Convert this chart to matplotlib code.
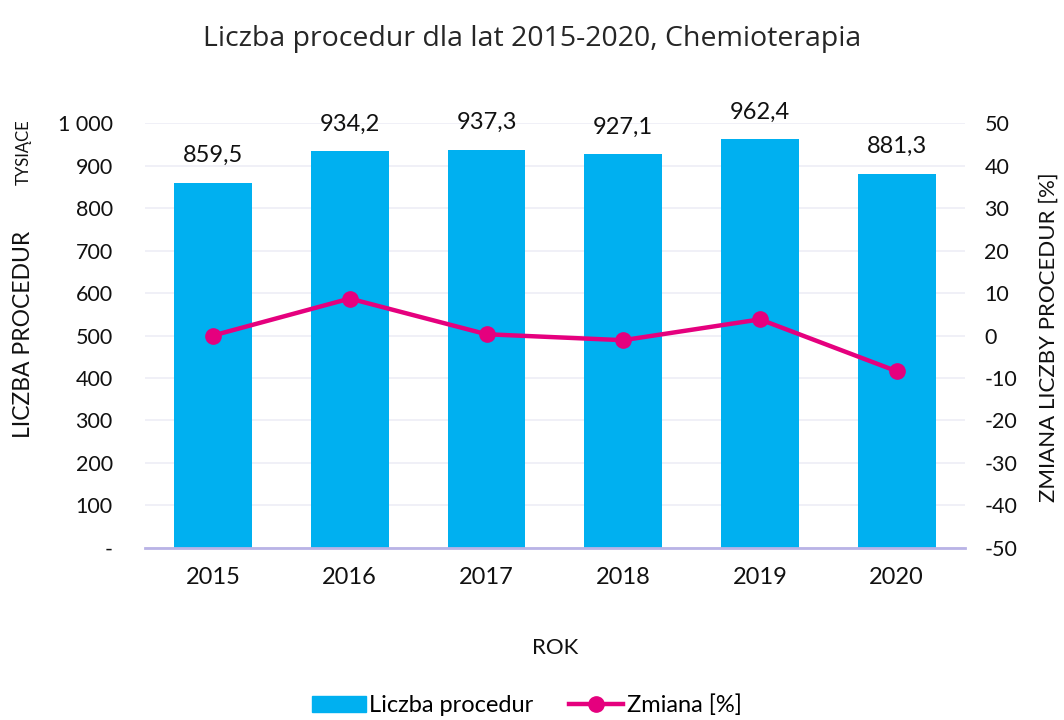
import matplotlib
matplotlib.use("Agg")
import matplotlib.pyplot as plt
from matplotlib.ticker import FuncFormatter
from matplotlib.lines import Line2D
from matplotlib.patches import Patch

plt.rcParams['font.family'] = ['Lato', 'DejaVu Sans']
plt.rcParams['axes.unicode_minus'] = False

years = ["2015", "2016", "2017", "2018", "2019", "2020"]
counts = [859.5, 934.2, 937.3, 927.1, 962.4, 881.3]
count_labels = ["859,5", "934,2", "937,3", "927,1", "962,4", "881,3"]
change = [0.0, 8.7, 0.3, -1.1, 3.8, -8.4]

bar_color = "#00B0F0"
line_color = "#E5007E"
text_color = "#111111"

fig = plt.figure(figsize=(10.64, 7.2), dpi=100)
ax = fig.add_axes([0.136, 0.239, 0.771, 0.59])
x = list(range(len(years)))
ax.bar(x, counts, width=0.57, color=bar_color, zorder=2)
for xi, v, lab in zip(x, counts, count_labels):
    ax.text(xi, v + 64, lab, ha='center', va='center', fontsize=17, color=text_color)

ax.set_xlim(-0.5, 5.5)
ax.set_ylim(0, 1000)
ax.set_yticks(range(0, 1001, 100))
def fmt(v, p):
    v = int(round(v))
    if v == 0:
        return "-"
    return f"{v:,}".replace(",", " ")
ax.yaxis.set_major_formatter(FuncFormatter(fmt))
ax.grid(axis='y', color='#EEEEF6', linewidth=1.2, zorder=0)
ax.set_axisbelow(True)
for s in ['top', 'right', 'left']:
    ax.spines[s].set_visible(False)
ax.spines['bottom'].set_color('#B9B3E6')
ax.spines['bottom'].set_linewidth(2)
ax.set_xticks(x)
ax.set_xticklabels(years)
ax.tick_params(axis='both', length=0, colors=text_color)
ax.tick_params(axis='x', pad=14, labelsize=17)
ax.tick_params(axis='y', pad=23, labelsize=15.5)
ax.set_xlabel("ROK", fontsize=16, labelpad=36, color=text_color)

ax2 = ax.twinx()
ax2.plot(x, change, color=line_color, linewidth=3.2, marker='o', markersize=11, zorder=3)
ax2.set_ylim(-50, 50)
ax2.set_yticks(range(-50, 51, 10))
for s in ['top', 'right', 'left', 'bottom']:
    ax2.spines[s].set_visible(False)
ax2.tick_params(axis='y', length=0, labelsize=15.5, colors=text_color, pad=14)

fig.text(0.022, 0.535, "LICZBA PROCEDUR", rotation=90, ha='center', va='center', fontsize=16.5, color=text_color)
fig.text(0.022, 0.789, "TYSIĄCE", rotation=90, ha='center', va='center', fontsize=12, color=text_color)
fig.text(0.986, 0.532, "ZMIANA LICZBY PROCEDUR [%]", rotation=90, ha='center', va='center', fontsize=16, color=text_color)

fig.suptitle("Liczba procedur dla lat 2015-2020, Chemioterapia", y=0.965, fontsize=20.5,
             color='#262626', family=['Open Sans', 'DejaVu Sans'])

handles = [Patch(color=bar_color, label="Liczba procedur"),
           Line2D([0], [0], color=line_color, linewidth=3.2, marker='o', markersize=11, label="Zmiana [%]")]
fig.legend(handles=handles, loc='center', bbox_to_anchor=(0.495, 0.02), ncol=2, frameon=False,
           fontsize=17, handlelength=2.3, handletextpad=0.15, columnspacing=1.5)

fig.savefig("out.png", dpi=100, facecolor='white')
